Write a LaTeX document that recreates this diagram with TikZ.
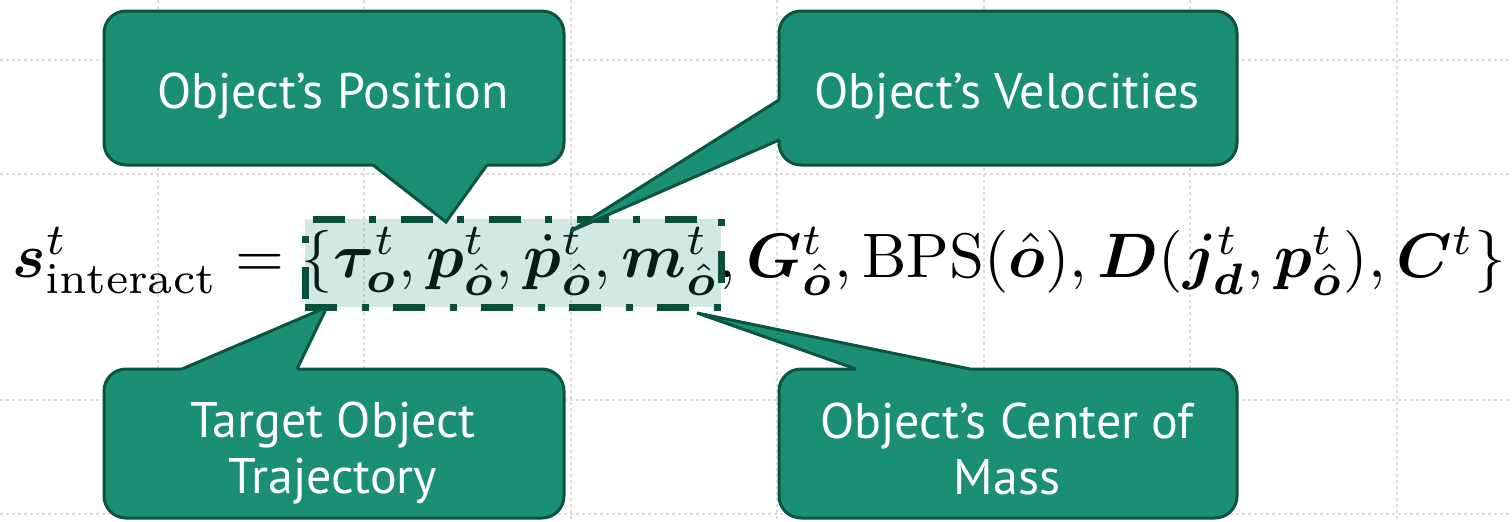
\documentclass[tikz,border=0pt]{standalone}
\usepackage{amsmath,bm}
\usepackage{graphicx}
\usepackage{fontspec}
\newfontfamily\calloutfont{PT Sans}
\definecolor{cteal}{RGB}{26,143,116}
\definecolor{cdark}{RGB}{12,84,66}
\definecolor{hldark}{RGB}{10,78,60}
\definecolor{gridc}{RGB}{220,220,220}
\tikzset{
  cbox/.style={draw=cdark, line width=1.5pt, fill=cteal, rounded corners=11pt, inner sep=0pt, outer sep=0pt},
  ctext/.style={text=white, font=\calloutfont\fontsize{25}{28}\selectfont, inner sep=0pt, anchor=base},
  ptrfill/.style={fill=cteal},
  ptredge/.style={draw=cdark, line width=1.5pt, line join=miter},
  gridl/.style={draw=gridc, line width=1pt, dash pattern=on 1.5pt off 1.5pt},
  hlbox/.style={draw=hldark, line width=3.5pt, fill=cteal, fill opacity=0.2, dash pattern=on 16pt off 12.5pt on 3.5pt off 12pt, inner sep=0pt, outer sep=0pt}
}
\begin{document}
\begin{tikzpicture}[x=0.5pt, y=-0.5pt]
\useasboundingbox (0,0) rectangle (1512,521);
\fill[white] (0,0) rectangle (1512,521);
% grid
\foreach \gx in {158,364,571,777,984,1190,1397} \draw[gridl] (\gx,0) -- (\gx,521);
\foreach \gy in {60,174,400,514} \draw[gridl] (0,\gy) -- (1512,\gy);
% formula
\node[anchor=base west, inner sep=0pt] (eq) at (12,277) {\resizebox{746.5pt}{!}{$\bm{s}^{t}_{\text{interact}} = \{\bm{\tau}^{t}_{\bm{o}}, \bm{p}^{t}_{\hat{\bm{o}}}, \dot{\bm{p}}^{t}_{\hat{\bm{o}}}, \bm{m}^{t}_{\hat{\bm{o}}}, \bm{G}^{t}_{\hat{\bm{o}}}, \mathrm{BPS}(\hat{\bm{o}}), \bm{D}(\bm{j}^{t}_{\bm{d}}, \bm{p}^{t}_{\hat{\bm{o}}}), \bm{C}^{t}\}$}};
% highlight box
\node[hlbox, minimum width=208pt, minimum height=44pt] (hl) at (513,263) {};
% callout boxes
\node[cbox, minimum width=230pt, minimum height=77pt] (bpos) at (334,88) {};
\node[cbox, minimum width=229pt, minimum height=77pt] (bvel) at (1008,88) {};
\node[cbox, minimum width=230pt, minimum height=74.5pt] (btraj) at (334,443.5) {};
\node[cbox, minimum width=229pt, minimum height=74.5pt] (bcom) at (1008,443.5) {};
% pointer tips
\coordinate (tpos) at (446,222);
\coordinate (tvel) at (571,231);
\coordinate (ttraj) at (327,307);
\coordinate (tcom) at (697,313);
% pointers
\fill[ptrfill] (373,165) -- (tpos) -- (487,165) -- (487,161) -- (373,161) -- cycle;
\draw[ptredge] (373,165) -- (tpos) -- (487,165);
\fill[ptrfill] (779,100) -- (tvel) -- (779,140) -- (783,140) -- (783,100) -- cycle;
\draw[ptredge] (779,100) -- (tvel) -- (779,140);
\fill[ptrfill] (182,369) -- (ttraj) -- (297,369) -- (297,373) -- (182,373) -- cycle;
\draw[ptredge] (182,369) -- (ttraj) -- (297,369);
\fill[ptrfill] (856,369) -- (tcom) -- (970,369) -- (970,373) -- (856,373) -- cycle;
\draw[ptredge] (856,369) -- (tcom) -- (970,369);
% labels
\node[ctext] (lpos) at (333,108) {Object’s Position};
\node[ctext] (lvel) at (1007,108) {Object’s Velocities};
\node[ctext] (ltraj) at (333,437) {\begin{tabular}[t]{@{}c@{}}Target Object\\Trajectory\end{tabular}};
\node[ctext] (lcom) at (1007,438) {\begin{tabular}[t]{@{}c@{}}Object’s Center of\\Mass\end{tabular}};
\end{tikzpicture}
\end{document}
